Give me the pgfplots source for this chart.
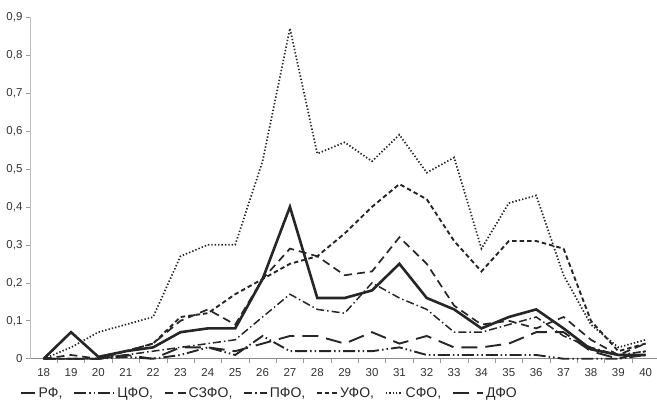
\documentclass[border=0pt]{standalone}
\usepackage{fontspec}
\setmainfont{Liberation Sans}
\usepackage{pgfplots}
\pgfplotsset{compat=1.18}
\usetikzlibrary{calc}
\definecolor{ln}{HTML}{262626}
\pgfplotsset{leglen/.style={legend image code/.code={\draw[##1] (0pt,0pt) -- (#1,0pt);}}}

\begin{document}
\begin{tikzpicture}
\begin{axis}[
    scale only axis,
    width=627pt, height=342pt,
    xmin=17.5, xmax=40.4,
    ymin=0, ymax=0.9,
    axis x line*=bottom, axis y line*=left,
    x axis line style={color=black!45, line width=0.8pt, -},
    y axis line style={color=black!25, line width=0.8pt, -},
    xtick={18,...,40},
    major x tick style={draw=none},
    minor xtick={18.5,19.5,...,39.5},
    minor x tick style={color=black!40, line width=0.6pt},
    minor tick length=4pt,
    ytick={0,0.1,...,0.9},
    y tick style={color=black!40, line width=0.6pt},
    major tick length=4pt,
    tick align=outside,
    tick label style={font=\fontsize{11.5}{12}\selectfont, color=black!80},
    xticklabel style={yshift=-2pt},
    /pgf/number format/assume math mode=true,
    yticklabel style={/pgf/number format/.cd, fixed, precision=1, use comma},
    clip=false,
    legend style={draw=none, fill=none, at={(-0.016,-0.1)}, anchor=west,
        font=\fontsize{14}{15}\selectfont, text=black!85,
        /tikz/every even column/.append style={column sep=9pt},
        inner sep=0pt},
    legend columns=-1,
    every axis plot/.append style={color=ln},
]
\addplot[line width=2.6pt, leglen=14pt] coordinates {
(18,0) (19,0.07) (20,0.005) (21,0.02) (22,0.03) (23,0.07) (24,0.08) (25,0.08) (26,0.21) (27,0.40) (28,0.16) (29,0.16) (30,0.18) (31,0.25) (32,0.16) (33,0.13) (34,0.08) (35,0.11) (36,0.13) (37,0.08) (38,0.025) (39,0.01) (40,0.01)};
\addlegendentry{РФ,}
\addplot[line width=1.9pt, dash pattern=on 12pt off 3pt on 1.5pt off 3pt on 1.5pt off 3pt, leglen=40pt] coordinates {
(18,0) (19,0) (20,0) (21,0.005) (22,0) (23,0.01) (24,0.03) (25,0.01) (26,0.06) (27,0.02) (28,0.02) (29,0.02) (30,0.02) (31,0.03) (32,0.01) (33,0.01) (34,0.01) (35,0.01) (36,0.01) (37,0) (38,0) (39,0) (40,0.01)};
\addlegendentry{ЦФО,}
\addplot[line width=1.7pt, dash pattern=on 8pt off 5pt, leglen=21pt] coordinates {
(18,0) (19,0.01) (20,0) (21,0.02) (22,0.04) (23,0.10) (24,0.13) (25,0.09) (26,0.21) (27,0.29) (28,0.27) (29,0.22) (30,0.23) (31,0.32) (32,0.25) (33,0.14) (34,0.09) (35,0.10) (36,0.08) (37,0.11) (38,0.05) (39,0.01) (40,0.04)};
\addlegendentry{СЗФО,}
\addplot[line width=1.5pt, dash pattern=on 8pt off 3pt on 1.5pt off 3pt, leglen=23pt] coordinates {
(18,0) (19,0) (20,0) (21,0.01) (22,0.02) (23,0.03) (24,0.04) (25,0.05) (26,0.11) (27,0.17) (28,0.13) (29,0.12) (30,0.20) (31,0.16) (32,0.13) (33,0.07) (34,0.07) (35,0.09) (36,0.11) (37,0.06) (38,0.03) (39,0.01) (40,0.02)};
\addlegendentry{ПФО,}
\addplot[line width=1.9pt, dash pattern=on 4.5pt off 3pt, leglen=20pt] coordinates {
(18,0) (19,0) (20,0) (21,0.02) (22,0.04) (23,0.11) (24,0.12) (25,0.17) (26,0.21) (27,0.25) (28,0.27) (29,0.33) (30,0.40) (31,0.46) (32,0.42) (33,0.31) (34,0.23) (35,0.31) (36,0.31) (37,0.29) (38,0.10) (39,0.02) (40,0.04)};
\addlegendentry{УФО,}
\addplot[line width=1.7pt, dash pattern=on 1.4pt off 2pt, leglen=17pt] coordinates {
(18,0) (19,0.03) (20,0.07) (21,0.09) (22,0.11) (23,0.27) (24,0.30) (25,0.30) (26,0.52) (27,0.87) (28,0.54) (29,0.57) (30,0.52) (31,0.59) (32,0.49) (33,0.53) (34,0.29) (35,0.41) (36,0.43) (37,0.22) (38,0.09) (39,0.03) (40,0.05)};
\addlegendentry{СФО,}
\addplot[line width=1.9pt, dash pattern=on 16pt off 8pt, leglen=30pt] coordinates {
(18,0) (19,0) (20,0) (21,0.01) (22,0) (23,0.03) (24,0.03) (25,0.02) (26,0.04) (27,0.06) (28,0.06) (29,0.04) (30,0.07) (31,0.04) (32,0.06) (33,0.03) (34,0.03) (35,0.04) (36,0.07) (37,0.07) (38,0.02) (39,0) (40,0.02)};
\addlegendentry{ДФО}
\end{axis}
\path ($(current axis.south west)+(-30pt,-50pt)$) rectangle ($(current axis.north east)+(0pt,17pt)$);
\end{tikzpicture}
\end{document}
